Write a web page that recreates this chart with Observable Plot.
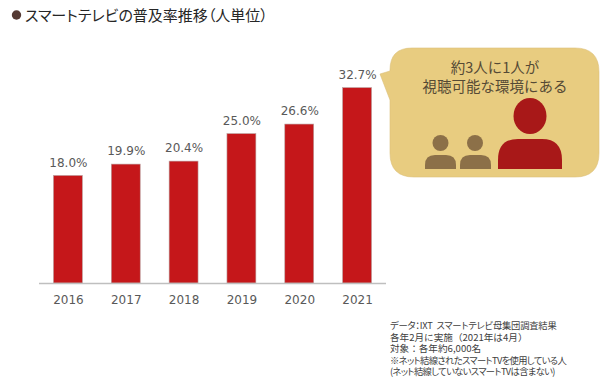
<!DOCTYPE html>
<html><head><meta charset="utf-8">
<script src="https://cdn.jsdelivr.net/npm/d3@7"></script>
<script src="https://cdn.jsdelivr.net/npm/@observablehq/plot@0.6"></script>
<style>
html,body{margin:0;padding:0;background:#fff}
#wrap{position:relative;width:600px;height:383px;overflow:hidden;font-family:"Noto Sans CJK JP","Noto Sans",sans-serif;color:#404040}
#wrap>svg,#wrap>div{position:absolute}
#title{left:25px;top:5px;font-size:15px;line-height:20px;white-space:nowrap;color:#262626;font-feature-settings:"palt"}
#note{left:390px;top:320px;line-height:11.6px;white-space:pre;color:#404040}
#note .a{font-size:9.6px}
#note .b{font-size:9.3px;font-feature-settings:"palt";letter-spacing:-0.65px}
#note .c{font-size:9.3px;font-feature-settings:"palt";letter-spacing:-0.2px}
#bubble-text{left:390px;top:57px;width:210px;text-align:center;font-size:14.5px;line-height:19px;color:#554a35}
</style></head><body>
<div id="wrap"></div>
<script>
const years = ["2016","2017","2018","2019","2020","2021"];
const shares = [18.0,19.9,20.4,25.0,26.6,32.7];
const titleText = "スマートテレビの普及率推移（人単位）";
const bubbleLines = "約3人に1人が\n視聴可能な環境にある";
const noteLines = ["データ：IXT  スマートテレビ母集団調査結果","各年2月に実施（2021年は4月）","対象：各年約6,000名","※ネット結線されたスマートTVを使用している人","(ネット結線していないスマートTVは含まない)"];

const data = years.map((y,i)=>({year:y,share:shares[i]}));
const wrap = document.getElementById("wrap");

const chart = Plot.plot({
  width:600,height:383,marginLeft:39,marginRight:214,marginTop:44,marginBottom:100,
  style:{fontFamily:"'DejaVu Sans',sans-serif",background:"transparent",overflow:"visible"},
  x:{domain:years,paddingInner:0.5,paddingOuter:0.25,round:false,label:null},
  y:{domain:[0,40],axis:null},
  marks:[
    Plot.barY(data,{x:"year",y:"share",fill:"#C5171A",stroke:"#b9a09f",strokeWidth:0.6}),
    Plot.ruleY([0],{stroke:"#bfbfbf",strokeWidth:1.5}),
    Plot.text(data,{x:"year",y:"share",text:d=>d.share.toFixed(1)+"%",dy:-13,fontSize:12,fill:"#595959"}),
    Plot.axisX({tickSize:0,tickPadding:12,fontSize:12,color:"#595959",label:null})
  ]
});
wrap.appendChild(chart);

const ns="http://www.w3.org/2000/svg";
const deco=document.createElementNS(ns,"svg");
deco.setAttribute("width",600);deco.setAttribute("height",383);deco.style.left="0";deco.style.top="0";
deco.innerHTML=`
<path d="M412 48H575Q599 48 599 72V153Q599 177 575 177H414Q390 177 390 153V100L380 74L390 71V70Q390 48 412 48Z" fill="#E8CC80" stroke="#dcc078" stroke-width="0.6"/>
<ellipse cx="530" cy="116" rx="16.5" ry="18" fill="#A81818"/>
<path d="M498 169V160Q498 139 518 139H542Q562 139 562 160V169Z" fill="#A81818"/>
<circle cx="440.5" cy="143" r="8" fill="#8C7048"/>
<path d="M425 169V165Q425 155 435 155H446Q456 155 456 165V169Z" fill="#8C7048"/>
<circle cx="475" cy="143" r="8" fill="#8C7048"/>
<path d="M460 169V165Q460 155 470 155H481Q491 155 491 165V169Z" fill="#8C7048"/>
<circle cx="16.5" cy="15" r="4.7" fill="#553a33"/>`;
wrap.appendChild(deco);

const title=document.createElement("div");title.id="title";title.textContent=titleText;wrap.appendChild(title);
const bubble=document.createElement("div");bubble.id="bubble-text";bubble.innerHTML=bubbleLines.split("\n").join("<br>");wrap.appendChild(bubble);
const note=document.createElement("div");note.id="note";
noteLines.forEach((t,i)=>{const d=document.createElement("div");d.className=i===0?"c":(i===1||i===2)?"a":"b";d.textContent=t;note.appendChild(d);});
wrap.appendChild(note);
</script>
</body></html>
